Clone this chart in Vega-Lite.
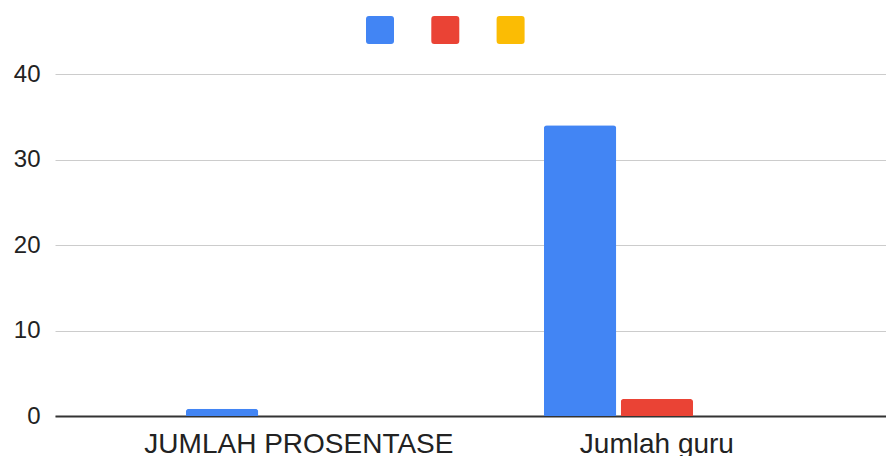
{
  "$schema": "https://vega.github.io/schema/vega-lite/v6.json",
  "width": 831,
  "height": 342,
  "autosize": {"type": "none"},
  "padding": {"left": 55, "top": 74, "right": 0, "bottom": 40},
  "background": "white",
  "config": {"view": {"stroke": null}, "font": "Liberation Sans"},
  "data": {
    "values": [
      {"kategori": "JUMLAH PROSENTASE", "seri": "1", "nilai": 0.85},
      {"kategori": "JUMLAH PROSENTASE", "seri": "2", "nilai": 0},
      {"kategori": "JUMLAH PROSENTASE", "seri": "3", "nilai": 0},
      {"kategori": "Jumlah guru", "seri": "1", "nilai": 34},
      {"kategori": "Jumlah guru", "seri": "2", "nilai": 2},
      {"kategori": "Jumlah guru", "seri": "3", "nilai": 0}
    ]
  },
  "mark": {"type": "bar", "cornerRadiusTopLeft": 3, "cornerRadiusTopRight": 3},
  "encoding": {
    "x": {
      "field": "kategori",
      "type": "nominal",
      "sort": null,
      "scale": {"paddingInner": 0.3687, "paddingOuter": 0.345, "align": 0.53},
      "axis": {
        "title": null,
        "labelAngle": 0,
        "labelFontSize": 28,
        "labelColor": "#222222",
        "labelLimit": 0,
        "ticks": false,
        "tickSize": 0,
        "domainColor": "#333333",
        "domainWidth": 2,
        "labelBaseline": "alphabetic",
        "labelPadding": 36,
        "grid": false
      }
    },
    "xOffset": {
      "field": "seri",
      "type": "nominal",
      "scale": {"paddingInner": 0.0586, "paddingOuter": 0}
    },
    "y": {
      "field": "nilai",
      "type": "quantitative",
      "scale": {"domain": [0, 40], "nice": false},
      "axis": {
        "title": null,
        "values": [0, 10, 20, 30, 40],
        "labelFontSize": 24,
        "labelColor": "#222222",
        "labelPadding": 15,
        "ticks": false,
        "tickSize": 0,
        "domain": false,
        "grid": true,
        "gridColor": "#cccccc",
        "gridWidth": 1,
        "labelBaseline": "middle"
      }
    },
    "color": {
      "field": "seri",
      "type": "nominal",
      "scale": {"domain": ["1", "2", "3"], "range": ["#4285F4", "#EA4335", "#FBBC04"]},
      "legend": {
        "orient": "none",
        "legendX": 311,
        "legendY": -58,
        "direction": "horizontal",
        "title": null,
        "labelExpr": "''",
        "symbolType": "M-0.79,-1H0.79Q1,-1,1,-0.79V0.79Q1,1,0.79,1H-0.79Q-1,1,-1,0.79V-0.79Q-1,-1,-0.79,-1Z",
        "symbolSize": 784,
        "symbolStrokeWidth": 0,
        "symbolOpacity": 1,
        "labelOffset": 0,
        "columnPadding": 37.3,
        "padding": 0
      }
    }
  }
}
